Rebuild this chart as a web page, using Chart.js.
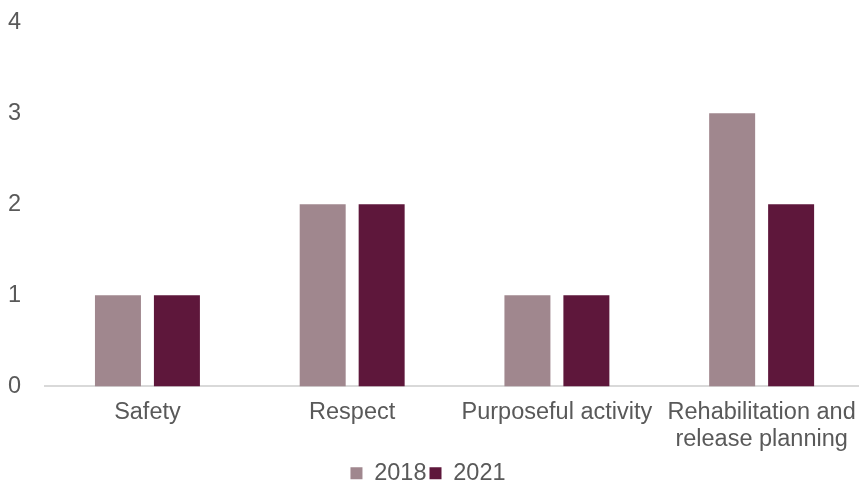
<!DOCTYPE html>
<html>
<head>
<meta charset="utf-8">
<script src="https://cdn.jsdelivr.net/npm/chart.js@4"></script>
<style>
  html, body { margin: 0; padding: 0; background: #fff; overflow: hidden; width: 859px; height: 481px; }
  /* canvas a bit bigger than the window so the axis runs off the right edge like the original */
  #wrap { width: 864px; height: 503px; margin-top: -8px; position: relative; }
</style>
</head>
<body>
<div id="wrap"><canvas id="ThemeChart"></canvas></div>
<script>
// categories + values
const Themes = [
  'Safety',
  'Respect',
  'Purposeful activity',
  ['Rehabilitation and', 'release planning']
];
const Values2018 = [1, 2, 1, 3];
const Values2021 = [1, 2, 1, 2];
const YTicks = [0, 1, 2, 3, 4];

Chart.defaults.font.family = "'Liberation Sans', Arial, sans-serif";
Chart.defaults.color = '#595959';

//Data
const ThemeData = {
  labels: Themes,
  datasets: [{
    label: '2018',
    data: Values2018,
    backgroundColor: '#a0878e',
    borderWidth: 0
  }, {
    label: '2021',
    data: Values2021,
    backgroundColor: '#5e173b',
    borderWidth: 0
  }]
};

//config
const ThemeConfig = {
  type: 'bar',
  data: ThemeData,
  options: {
    responsive: true,
    maintainAspectRatio: false,
    animation: false,
    categoryPercentage: 0.576,
    barPercentage: 0.78,
    layout: { padding: { top: 0, right: 0, left: -8, bottom: 0 } },
    plugins: {
      legend: {
        position: 'bottom',
        labels: {
          boxWidth: 12,
          boxHeight: 12,
          padding: 3,
          font: { size: 23.5 },
          color: '#595959'
        }
      },
      tooltip: { enabled: false }
    },
    scales: {
      x: {
        grid: { display: false },
        border: { display: true, color: '#d9d9d9', width: 2 },
        ticks: {
          font: { size: 23.5, lineHeight: 1.15 },
          color: '#595959',
          maxRotation: 0,
          autoSkip: false,
          padding: 5
        }
      },
      y: {
        min: 0,
        max: 4,
        afterBuildTicks: (axis) => { axis.ticks = YTicks.map(v => ({ value: v })); },
        grid: { display: false },
        border: { display: false },
        ticks: {
          font: { size: 23.5 },
          color: '#595959',
          padding: 16
        }
      }
    }
  }
};

//View
const ThemeChart = new Chart(
  document.getElementById('ThemeChart'),
  ThemeConfig
);
</script>
</body>
</html>
